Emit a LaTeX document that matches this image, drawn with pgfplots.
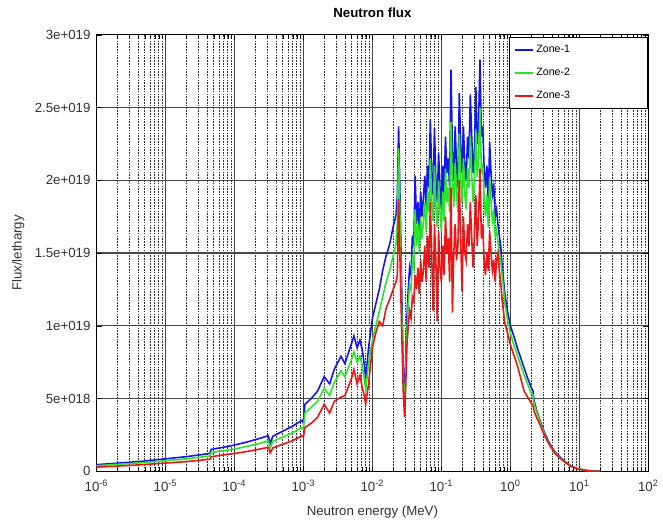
\documentclass[border=0pt]{standalone}
\usepackage{pgfplots}
\pgfplotsset{compat=1.18}
\usepackage{pgfplotstable}
\usepackage{fontspec}
\setmainfont{Liberation Sans}
\definecolor{zblue}{RGB}{20,20,240}
\definecolor{zgreen}{RGB}{40,230,40}
\definecolor{zred}{RGB}{240,20,20}
% Flux per lethargy in units of 1e19
\pgfplotstableread{
E z1 z2 z3
1.0e-6 0.045 0.038 0.028
2.0e-6 0.055 0.047 0.035
5.0e-6 0.070 0.060 0.046
1.0e-5 0.085 0.072 0.056
2.0e-5 0.100 0.085 0.066
4.4e-5 0.122 0.104 0.082
4.6e-5 0.150 0.128 0.100
7.0e-5 0.165 0.141 0.112
1.0e-4 0.180 0.153 0.122
1.5e-4 0.200 0.170 0.135
2.5e-4 0.230 0.195 0.155
3.1e-4 0.245 0.210 0.165
3.3e-4 0.190 0.160 0.125
3.6e-4 0.240 0.205 0.160
5.0e-4 0.275 0.235 0.185
7.0e-4 0.310 0.265 0.210
9.5e-4 0.350 0.300 0.245
1.0e-3 0.330 0.290 0.235
1.05e-3 0.460 0.400 0.300
1.3e-3 0.500 0.440 0.330
1.6e-3 0.550 0.480 0.370
2.0e-3 0.650 0.570 0.460
2.4e-3 0.600 0.520 0.400
2.8e-3 0.700 0.610 0.480
3.5e-3 0.790 0.690 0.510
4.0e-3 0.740 0.650 0.520
5.0e-3 0.880 0.770 0.640
5.4e-3 0.930 0.820 0.700
6.0e-3 0.850 0.750 0.600
6.6e-3 0.900 0.790 0.660
7.1e-3 0.840 0.730 0.580
7.6e-3 0.740 0.640 0.520
8.0e-3 0.640 0.560 0.460
8.8e-3 0.850 0.740 0.600
1.0e-2 1.050 0.900 0.850
1.12e-2 1.150 1.000 0.950
1.26e-2 1.250 1.100 1.030
1.41e-2 1.380 1.200 1.000
1.58e-2 1.480 1.300 1.120
1.78e-2 1.560 1.380 1.180
2.0e-2 1.680 1.480 1.250
2.2e-2 1.760 1.560 1.300
2.3e-2 1.900 1.700 1.350
2.4e-2 2.370 2.220 1.870
2.5e-2 1.950 1.800 1.500
2.65e-2 1.300 1.150 1.000
2.8e-2 0.700 0.600 0.550
2.93e-2 0.500 0.450 0.370
3.05e-2 0.800 0.700 0.600
0.03162 1.05 0.95 0.85
0.03311 1.25 1.15 1.00
0.03467 1.40 1.28 1.10
0.03631 1.35 1.25 1.05
0.03802 1.62 1.45 1.20
0.03981 1.55 1.40 1.17
0.04169 2.03 1.80 1.35
0.04365 1.70 1.55 1.25
0.04571 1.85 1.70 1.40
0.04786 1.65 1.50 1.22
0.05012 1.92 1.75 1.45
0.05248 1.75 1.60 1.30
0.05495 1.88 1.72 1.38
0.05754 2.03 1.85 1.55
0.06026 1.80 1.65 1.30
0.06310 2.10 1.92 1.62
0.06607 1.95 1.78 1.40
0.06918 2.42 2.15 1.85
0.07244 2.05 1.85 1.50
0.07586 1.90 1.72 1.10
0.07943 2.36 2.10 1.70
0.08318 2.00 1.82 1.45
0.08710 1.85 1.68 1.03
0.09120 2.19 2.00 1.65
0.09550 1.95 1.78 1.40
0.1000 1.80 1.65 1.30
0.1047 2.10 1.92 1.55
0.1096 1.90 1.72 1.35
0.1148 2.30 2.08 1.75
0.1202 2.05 1.85 1.50
0.1259 2.15 1.95 1.60
0.1318 1.95 1.78 1.30
0.1380 2.76 2.40 1.95
0.1445 2.20 1.98 1.09
0.1514 2.00 1.82 1.50
0.1585 2.37 2.12 1.70
0.1660 2.10 1.90 1.45
0.1738 1.95 1.78 1.55
0.1820 2.60 2.32 2.00
0.1905 2.25 2.02 1.60
0.1995 2.05 1.85 1.24
0.2089 2.37 2.15 1.75
0.2188 2.10 1.90 1.50
0.2291 2.00 1.80 1.45
0.2399 2.30 2.08 1.70
0.2512 2.15 1.95 1.55
0.2630 2.59 2.30 1.85
0.2754 2.30 2.05 1.60
0.2884 2.05 1.85 1.40
0.3020 2.20 1.98 1.65
0.3162 2.64 2.35 1.90
0.3311 2.25 2.02 1.55
0.3467 2.40 2.15 1.75
0.3631 2.83 2.50 2.08
0.3802 2.30 2.05 1.60
0.3981 2.37 2.12 1.70
0.4169 2.08 1.88 1.45
0.4365 1.95 1.75 1.35
0.4571 2.10 1.90 1.50
0.4786 1.85 1.68 1.38
0.5012 2.26 2.02 1.65
0.5248 2.05 1.85 1.50
0.5495 1.90 1.72 1.38
0.5754 1.96 1.78 1.45
0.6026 1.75 1.62 1.30
0.6310 1.80 1.66 1.45
0.6607 1.70 1.58 1.50
0.6918 1.62 1.50 1.38
0.7244 1.55 1.45 1.30
0.7586 1.42 1.35 1.18
0.7943 1.32 1.26 1.10
0.8318 1.22 1.15 1.02
0.9120 1.10 1.04 0.95
1.000 1.00 0.95 0.87
1.122 0.93 0.87 0.80
1.259 0.85 0.80 0.73
1.413 0.78 0.73 0.64
1.585 0.71 0.66 0.55
1.778 0.64 0.60 0.51
1.995 0.58 0.54 0.47
2.138 0.55 0.52 0.45
2.188 0.49 0.47 0.42
2.399 0.42 0.41 0.37
2.692 0.35 0.34 0.32
3.162 0.26 0.25 0.24
3.715 0.19 0.18 0.18
4.467 0.13 0.125 0.12
5.888 0.075 0.072 0.07
7.413 0.040 0.038 0.035
9.120 0.020 0.019 0.017
12.59 0.006 0.005 0.004
15.85 0.001 0.001 0.001
19.95 0 0 0
}\fluxdata
\begin{document}
\begin{tikzpicture}
\begin{axis}[
  scale only axis,
  width=416pt, height=329pt,
  xmode=log,
  xmin=1e-6, xmax=1e2, ymin=0, ymax=3,
  xtick={1e-6,1e-5,1e-4,1e-3,1e-2,1e-1,1e0,1e1,1e2},
  xticklabels={10\textsuperscript{-6},10\textsuperscript{-5},10\textsuperscript{-4},10\textsuperscript{-3},10\textsuperscript{-2},10\textsuperscript{-1},10\textsuperscript{0},10\textsuperscript{1},10\textsuperscript{2}},
  ytick={0,0.5,1,1.5,2,2.5,3},
  yticklabels={0,5e+018,1e+019,1.5e+019,2e+019,2.5e+019,3e+019},
  minor y tick num=0,
  grid=both,
  major grid style={draw=black!72, line width=1pt},
  minor grid style={draw=black!80, dash pattern=on 1.2pt off 0.9pt, line width=0.5pt},
  axis line style={black, line width=0.8pt},
  tick style={black},
  tick label style={font=\normalsize, text=black!80},
  xticklabel style={yshift=-3pt},
  yticklabel style={xshift=-1pt},
  title={\textbf{Neutron flux}},
  every axis title/.style={at={(0.5,1)}, anchor=center, yshift=17pt},
  xlabel={Neutron energy (MeV)},
  every axis x label/.style={at={(0.5,0)}, anchor=center, yshift=-31pt},
  ylabel={Flux/lethargy},
  every axis y label/.style={at={(-0.1418,0.5)}, anchor=center, rotate=90},
  label style={text=black!80},
  legend cell align=left,
  legend style={at={(rel axis cs:0.998,0.994)}, anchor=north east, draw=black, fill=white, font=\footnotesize, row sep=6pt, inner xsep=4pt, inner ysep=4pt},
  legend image code/.code={\draw[#1, line width=1.4pt] (0cm,0cm) -- (0.46cm,0cm);},
]
\addplot[zblue, line width=1.2pt] table[x=E, y=z1] {\fluxdata};
\addlegendentry{Zone-1\hspace*{52pt}}
\addplot[zgreen, line width=1.2pt] table[x=E, y=z2] {\fluxdata};
\addlegendentry{Zone-2}
\addplot[zred, line width=1.2pt] table[x=E, y=z3] {\fluxdata};
\addlegendentry{Zone-3}
\coordinate (ll) at (rel axis cs:0,0);
\coordinate (ur) at (rel axis cs:1,1);
\end{axis}
\path (ll) ++(-72.75pt,-39pt);
\path (ur) ++(8.25pt,26.25pt);
\end{tikzpicture}
\end{document}
